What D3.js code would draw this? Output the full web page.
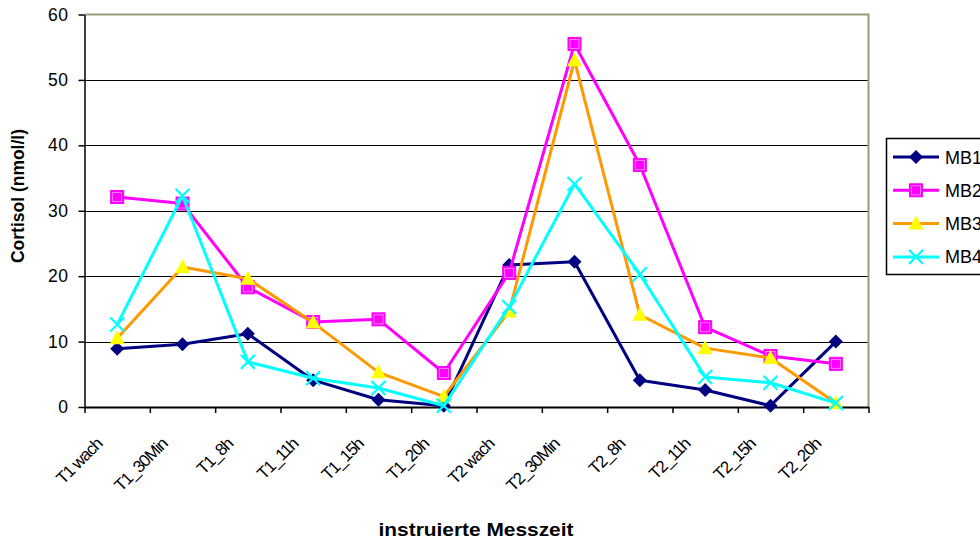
<!DOCTYPE html>
<html>
<head>
<meta charset="utf-8">
<script src="https://cdn.jsdelivr.net/npm/d3@7"></script>
<style>
  html, body { margin: 0; padding: 0; background: #fff; }
  svg { display: block; font-family: "Liberation Sans", Arial, sans-serif; }
</style>
</head>
<body>
<svg id="chart" width="980" height="542"></svg>
<script>
// Measurement times (x categories)
const categories = ["T1 wach", "T1_30Min", "T1_8h", "T1_11h", "T1_15h", "T1_20h",
                    "T2 wach", "T2_30Min", "T2_8h", "T2_11h", "T2_15h", "T2_20h"];

// Cortisol values (nmol/l) per subject
const mb1 = [8.9, 9.6, 11.2, 4.1, 1.1, 0.2, 21.7, 22.2, 4.1, 2.6, 0.2, 10.0];
const mb2 = [32.1, 31.1, 18.3, 13.0, 13.4, 5.2, 20.5, 55.5, 37.0, 12.2, 7.8, 6.6];
const mb3 = [10.5, 21.4, 19.6, 12.9, 5.3, 1.6, 14.6, 53.0, 14.1, 9.0, 7.5, 0.6];
const mb4 = [12.6, 32.3, 6.9, 4.4, 2.9, 0.2, 15.3, 34.1, 20.3, 4.6, 3.7, 0.6];

const seriesNames = ["MB1", "MB2", "MB3", "MB4"];

// Y axis ticks
const yTicks = [0, 10, 20, 30, 40, 50, 60];

const series = [
  { name: seriesNames[0], values: mb1, line: "#000080", fill: "#000080", marker: "diamond" },
  { name: seriesNames[1], values: mb2, line: "#FF00FF", fill: "#FF00FF", marker: "square" },
  { name: seriesNames[2], values: mb3, line: "#FF9900", fill: "#FFFF00", marker: "triangle" },
  { name: seriesNames[3], values: mb4, line: "#00FFFF", fill: "#00FFFF", marker: "cross" }
];

const svg = d3.select("#chart");
const plot = { left: 84.5, right: 868.5, top: 14.5, bottom: 407 };

const x = d3.scaleBand().domain(categories).range([plot.left, plot.right]).padding(0);
const xEdge = d3.scaleLinear().domain([0, categories.length]).range([plot.left, plot.right]);
const y = d3.scaleLinear().domain([0, 60]).range([plot.bottom, plot.top]);
const cx = c => x(c) + x.bandwidth() / 2;

// Horizontal gridlines
svg.append("g")
  .selectAll("line")
  .data(yTicks.filter(t => t > 0 && t < 60))
  .join("line")
  .attr("x1", plot.left).attr("x2", plot.right)
  .attr("y1", d => Math.round(y(d)) + 0.5).attr("y2", d => Math.round(y(d)) + 0.5)
  .attr("stroke", "#000").attr("stroke-width", 1);

// Plot area frame (top and right)
svg.append("path")
  .attr("d", `M${plot.left},${plot.top}H${plot.right}V${plot.bottom}`)
  .attr("fill", "none").attr("stroke", "#9c9c7c").attr("stroke-width", 2);

// Y axis
const yAxis = svg.append("g")
  .attr("transform", `translate(${plot.left},0)`)
  .call(d3.axisLeft(y).tickValues(yTicks).tickSize(6).tickSizeOuter(0).tickPadding(10));
yAxis.select(".domain").attr("stroke", "#000").attr("stroke-width", 1.5);
yAxis.selectAll(".tick line").attr("stroke", "#000").attr("stroke-width", 1.5);
yAxis.selectAll(".tick text")
  .attr("font-size", 17.5).attr("fill", "#000")
  .attr("font-family", "'Liberation Sans', Arial, sans-serif")
  .attr("letter-spacing", 0.5);

// X axis (ticks at category boundaries)
const xAxis = svg.append("g")
  .attr("transform", `translate(0,${plot.bottom})`)
  .call(d3.axisBottom(xEdge).tickValues(d3.range(categories.length + 1))
        .tickSize(6).tickSizeOuter(0).tickFormat(""));
xAxis.select(".domain").attr("stroke", "#000").attr("stroke-width", 2);
xAxis.selectAll(".tick line").attr("stroke", "#000").attr("stroke-width", 1.5);

// Category labels, rotated
svg.append("g")
  .selectAll("text")
  .data(categories)
  .join("text")
  .attr("transform", d => `translate(${cx(d) - 14},${445}) rotate(-45)`)
  .attr("text-anchor", "end")
  .attr("font-size", 17)
  .attr("letter-spacing", -1.1)
  .attr("fill", "#000")
  .text(d => d);

// Axis titles
svg.append("text")
  .attr("x", 476).attr("y", 536)
  .attr("text-anchor", "middle")
  .attr("font-size", 19).attr("font-weight", "bold")
  .attr("textLength", 195).attr("lengthAdjust", "spacingAndGlyphs")
  .text("instruierte Messzeit");

svg.append("text")
  .attr("transform", "translate(24,196) rotate(-90)")
  .attr("text-anchor", "middle")
  .attr("font-size", 18).attr("font-weight", "bold")
  .attr("textLength", 134).attr("lengthAdjust", "spacingAndGlyphs")
  .text("Cortisol (nmol/l)");

// Marker drawing
function drawMarker(g, type, fill) {
  if (type === "diamond") {
    g.append("path").attr("d", "M0,-7L7,0L0,7L-7,0Z").attr("fill", fill);
  } else if (type === "square") {
    g.append("rect").attr("x", -6.5).attr("y", -6.5).attr("width", 13).attr("height", 13)
      .attr("fill", fill).attr("stroke", fill).attr("stroke-width", 1);
    g.append("rect").attr("x", -4.5).attr("y", -4.5).attr("width", 9).attr("height", 9)
      .attr("fill", "none").attr("stroke", "#ff99ff").attr("stroke-width", 0.8);
  } else if (type === "triangle") {
    g.append("path").attr("d", "M0,-8L7.5,6L-7.5,6Z").attr("fill", fill);
  } else if (type === "cross") {
    g.append("path").attr("d", "M-7,-7L7,7M-7,7L7,-7")
      .attr("stroke", fill).attr("stroke-width", 2.2).attr("fill", "none");
  }
}

const line = d3.line().x((d, i) => cx(categories[i])).y(d => y(d));

series.forEach(s => {
  const g = svg.append("g");
  g.append("path")
    .datum(s.values)
    .attr("d", line)
    .attr("fill", "none")
    .attr("stroke", s.line)
    .attr("stroke-width", 3)
    .attr("stroke-linejoin", "round");
  s.values.forEach((v, i) => {
    const m = g.append("g").attr("transform", `translate(${cx(categories[i])},${y(v)})`);
    drawMarker(m, s.marker, s.fill);
  });
});

// Legend
const legend = svg.append("g");
legend.append("rect")
  .attr("x", 886.5).attr("y", 138.5).attr("width", 110).attr("height", 136)
  .attr("fill", "#fff").attr("stroke", "#000").attr("stroke-width", 1.5);
series.forEach((s, i) => {
  const ly = 157 + i * 33.3;
  legend.append("line")
    .attr("x1", 893).attr("x2", 939).attr("y1", ly).attr("y2", ly)
    .attr("stroke", s.line).attr("stroke-width", 3);
  drawMarker(legend.append("g").attr("transform", `translate(916,${ly})`), s.marker, s.fill);
  legend.append("text")
    .attr("x", 945).attr("y", ly + 6.5)
    .attr("font-size", 18).attr("fill", "#000")
    .text(s.name);
});
</script>
</body>
</html>
